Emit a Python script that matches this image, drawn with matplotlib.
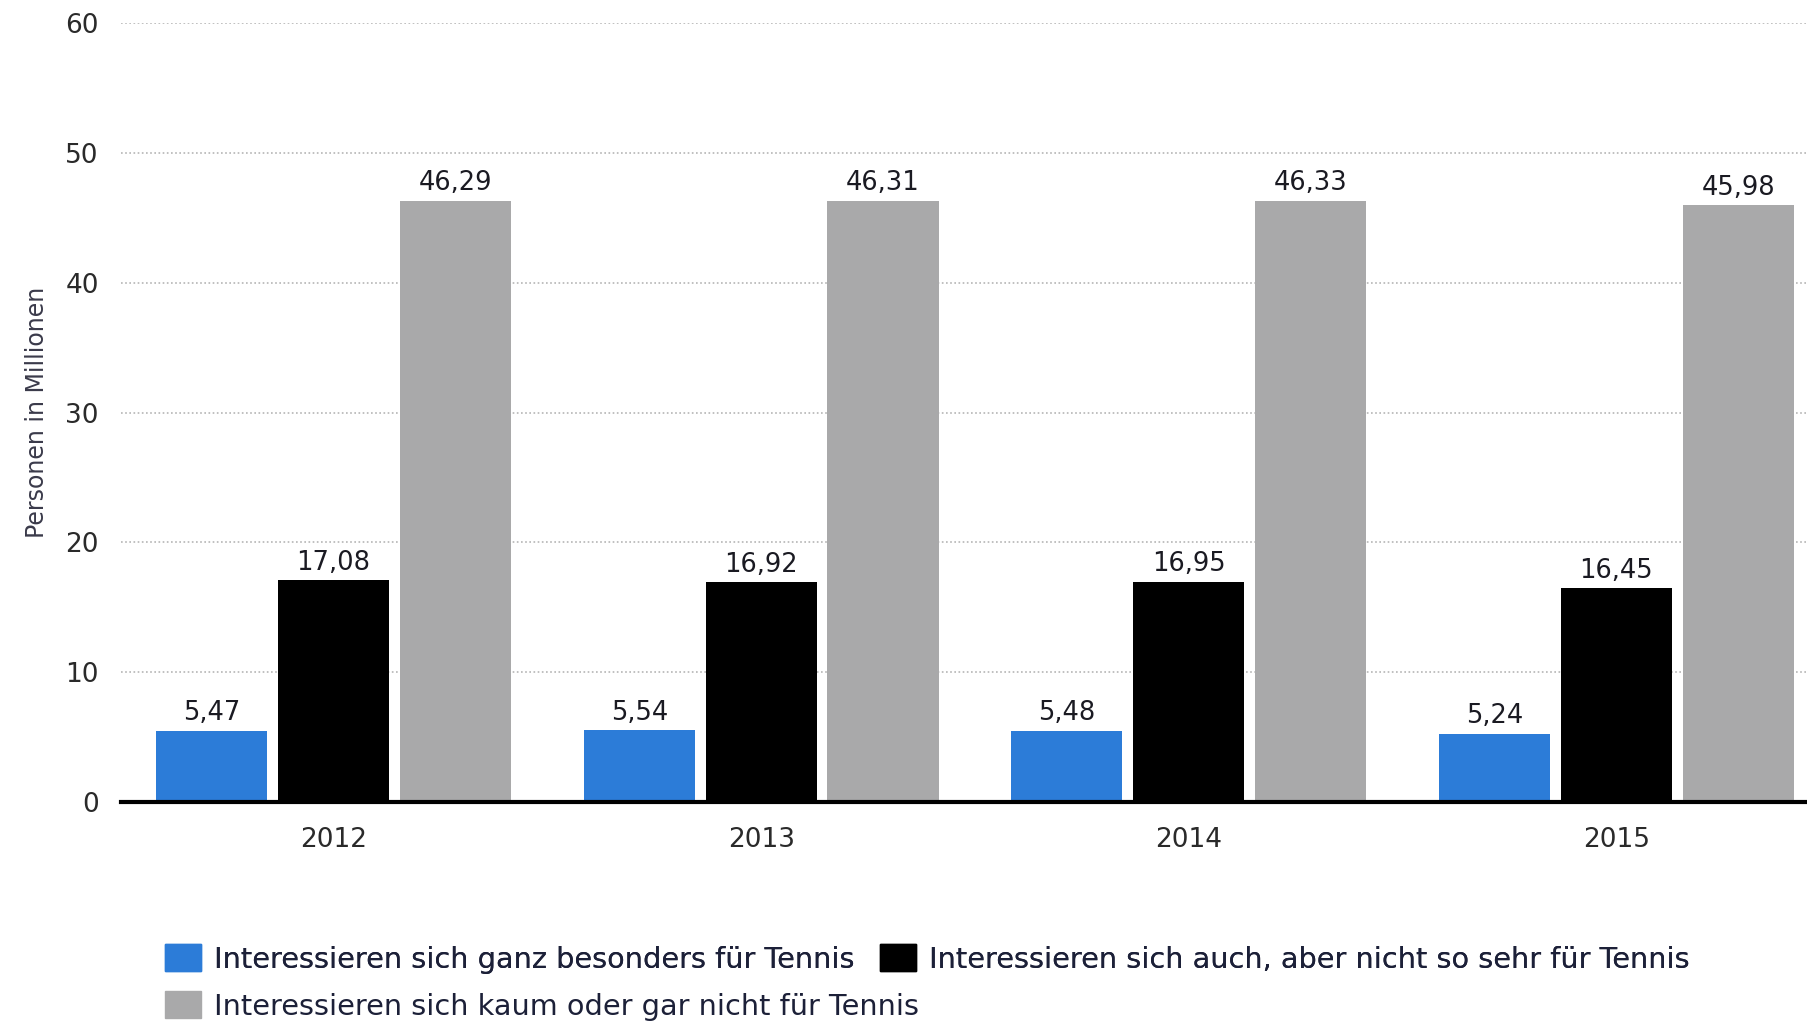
import matplotlib.pyplot as plt
import numpy as np

years = ['2012', '2013', '2014', '2015']
besonders = [5.47, 5.54, 5.48, 5.24]
auch = [17.08, 16.92, 16.95, 16.45]
kaum = [46.29, 46.31, 46.33, 45.98]
labels = ['Interessieren sich ganz besonders für Tennis',
          'Interessieren sich auch, aber nicht so sehr für Tennis',
          'Interessieren sich kaum oder gar nicht für Tennis']
colors = ['#2c7cd8', '#000000', '#a9a9aa']

plt.rcParams['font.family'] = ['DejaVu Sans']

fig = plt.figure(figsize=(18.07, 10.23), dpi=100)
ax = fig.add_axes([0.067, 0.216, 0.933, 0.7615])

x = np.arange(len(years))
w = 0.26
step = 0.285
for i, (vals, c) in enumerate(zip([besonders, auch, kaum], colors)):
    ax.bar(x + (i - 1) * step, vals, width=w, color=c, zorder=3)
    for xi, v in zip(x + (i - 1) * step, vals):
        ax.text(xi, v + 0.35, f'{v:.2f}'.replace('.', ','), ha='center', va='bottom',
                fontsize=18.5, color='#1a1a22', zorder=4)

ax.set_xlim(-0.497, 3.446)
ax.set_ylim(0, 60)
ax.set_yticks([0, 10, 20, 30, 40, 50, 60])
ax.set_xticks(x)
ax.set_xticklabels(years)
ax.tick_params(axis='both', length=0, labelsize=19, colors='#2a2a2a')
ax.tick_params(axis='x', pad=18)
ax.tick_params(axis='y', pad=16)
ax.yaxis.grid(True, linestyle=(0, (1, 1.5)), color='#b5b5b5', linewidth=1.2, zorder=0)
for s in ['top', 'right', 'left']:
    ax.spines[s].set_visible(False)
ax.spines['bottom'].set_linewidth(3)
ax.spines['bottom'].set_zorder(5)
ax.set_ylabel('Personen in Millionen', fontsize=17, color='#3a3a4a')
ax.yaxis.set_label_coords(-0.043, 0.5)

# legend in two rows: blue + black on top, gray below
h = [plt.Rectangle((0, 0), 1, 1, color=c) for c in colors]
kw = dict(frameon=False, fontsize=20.7, handlelength=1.25, handleheight=1.05,
          handletextpad=0.45, borderpad=0, borderaxespad=0, labelcolor='#1c2038',
          loc='center left')
leg1 = fig.legend(h[:2], labels[:2], ncol=2, columnspacing=0.9,
                  bbox_to_anchor=(0.0913, 0.0626), **kw)
fig.add_artist(leg1)
fig.legend(h[2:], labels[2:], bbox_to_anchor=(0.0913, 0.0166), **kw)

fig.savefig('out.png', dpi=100)
